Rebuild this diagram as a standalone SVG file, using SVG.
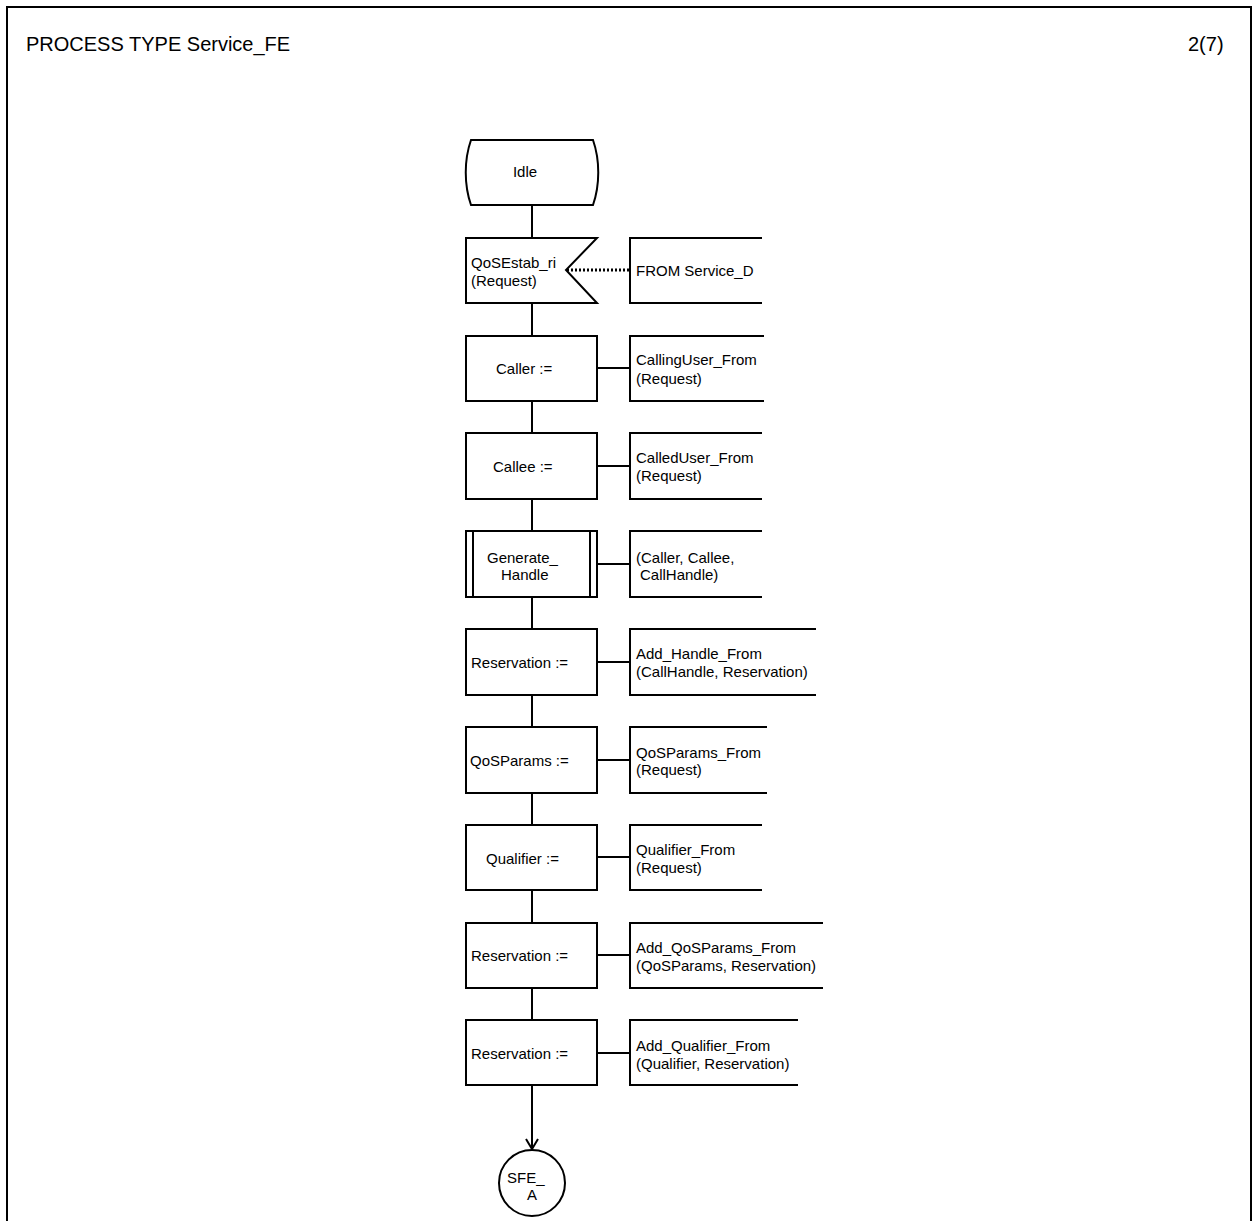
<svg xmlns="http://www.w3.org/2000/svg" width="1253" height="1221" viewBox="0 0 1253 1221">
<style>
.s{fill:#fff;stroke:#000;stroke-width:2}
.o{fill:none;stroke:#000;stroke-width:2}
.l{fill:none;stroke:#000;stroke-width:2}
.d{fill:none;stroke:#000;stroke-width:3;stroke-dasharray:2,2}
text{font-family:"Liberation Sans",Arial,sans-serif;font-size:15px;fill:#000}
.h{font-size:20px}
.c{text-anchor:middle}
</style>
<defs>
<marker id="arr" markerWidth="24" markerHeight="14" refX="11" refY="7" orient="auto" markerUnits="userSpaceOnUse">
<path d="M1,1 L11,7 L1,13" fill="none" stroke="#000" stroke-width="2"/>
</marker>
</defs>
<rect x="7" y="7" width="1244" height="1230" fill="#fff" stroke="#000" stroke-width="2"/>
<text x="26" y="51" class="h">PROCESS TYPE Service_FE</text>
<text x="1188" y="51" class="h">2(7)</text>

<g id="connectors">
<line class="l" x1="532" y1="205" x2="532" y2="238"/>
<line class="l" x1="532" y1="304" x2="532" y2="336"/>
<line class="l" x1="532" y1="401" x2="532" y2="433"/>
<line class="l" x1="532" y1="499" x2="532" y2="531"/>
<line class="l" x1="532" y1="597" x2="532" y2="629"/>
<line class="l" x1="532" y1="695" x2="532" y2="727"/>
<line class="l" x1="532" y1="793" x2="532" y2="825"/>
<line class="l" x1="532" y1="890" x2="532" y2="923"/>
<line class="l" x1="532" y1="988" x2="532" y2="1020"/>
<line class="l" x1="532" y1="1085" x2="532" y2="1149" marker-end="url(#arr)"/>
<line class="d" x1="567" y1="270" x2="630" y2="270"/>
<line class="l" x1="597" y1="368" x2="630" y2="368"/>
<line class="l" x1="597" y1="466" x2="630" y2="466"/>
<line class="l" x1="597" y1="564" x2="630" y2="564"/>
<line class="l" x1="597" y1="662" x2="630" y2="662"/>
<line class="l" x1="597" y1="760" x2="630" y2="760"/>
<line class="l" x1="597" y1="857" x2="630" y2="857"/>
<line class="l" x1="597" y1="955" x2="630" y2="955"/>
<line class="l" x1="597" y1="1053" x2="630" y2="1053"/>
</g>

<g id="idle">
<path class="s" d="M471,140 H593 C600,160 600,185 593,205 H471 C464,185 464,160 471,140 Z"/>
<text x="525" y="177" class="c">Idle</text>
</g>

<g id="input">
<path class="s" d="M466,238 H597 L566,270 L597,303 H466 Z"/>
<text x="471" y="268">QoSEstab_ri</text>
<text x="471" y="286">(Request)</text>
</g>
<g id="c_from">
<path class="o" d="M762,238 H630 V303 H762"/>
<text x="636" y="276">FROM Service_D</text>
</g>

<g id="caller">
<rect class="s" x="466" y="336" width="131" height="65"/>
<text x="496" y="374">Caller :=</text>
</g>
<g id="c_caller">
<path class="o" d="M764,336 H630 V401 H764"/>
<text x="636" y="365">CallingUser_From</text>
<text x="636" y="384">(Request)</text>
</g>

<g id="callee">
<rect class="s" x="466" y="433" width="131" height="66"/>
<text x="493" y="472">Callee :=</text>
</g>
<g id="c_callee">
<path class="o" d="M762,433 H630 V499 H762"/>
<text x="636" y="463">CalledUser_From</text>
<text x="636" y="481">(Request)</text>
</g>

<g id="gen">
<rect class="s" x="466" y="531" width="131" height="66"/>
<line class="l" x1="473" y1="531" x2="473" y2="597"/>
<line class="l" x1="590" y1="531" x2="590" y2="597"/>
<text x="487" y="563">Generate_</text>
<text x="501" y="580">Handle</text>
</g>
<g id="c_gen">
<path class="o" d="M762,531 H630 V597 H762"/>
<text x="636" y="563">(Caller, Callee,</text>
<text x="640" y="580">CallHandle)</text>
</g>

<g id="res1">
<rect class="s" x="466" y="629" width="131" height="66"/>
<text x="471" y="668">Reservation :=</text>
</g>
<g id="c_res1">
<path class="o" d="M816,629 H630 V695 H816"/>
<text x="636" y="659">Add_Handle_From</text>
<text x="636" y="677">(CallHandle, Reservation)</text>
</g>

<g id="qos">
<rect class="s" x="466" y="727" width="131" height="66"/>
<text x="470" y="766">QoSParams :=</text>
</g>
<g id="c_qos">
<path class="o" d="M767,727 H630 V793 H767"/>
<text x="636" y="758">QoSParams_From</text>
<text x="636" y="775">(Request)</text>
</g>

<g id="qual">
<rect class="s" x="466" y="825" width="131" height="65"/>
<text x="486" y="864">Qualifier :=</text>
</g>
<g id="c_qual">
<path class="o" d="M762,825 H630 V890 H762"/>
<text x="636" y="855">Qualifier_From</text>
<text x="636" y="873">(Request)</text>
</g>

<g id="res2">
<rect class="s" x="466" y="923" width="131" height="65"/>
<text x="471" y="961">Reservation :=</text>
</g>
<g id="c_res2">
<path class="o" d="M823,923 H630 V988 H823"/>
<text x="636" y="953">Add_QoSParams_From</text>
<text x="636" y="971">(QoSParams, Reservation)</text>
</g>

<g id="res3">
<rect class="s" x="466" y="1020" width="131" height="65"/>
<text x="471" y="1059">Reservation :=</text>
</g>
<g id="c_res3">
<path class="o" d="M798,1020 H630 V1085 H798"/>
<text x="636" y="1051">Add_Qualifier_From</text>
<text x="636" y="1069">(Qualifier, Reservation)</text>
</g>

<g id="sfe_a">
<circle class="s" cx="532" cy="1183" r="33"/>
<text x="507" y="1183">SFE_</text>
<text x="532" y="1200" class="c">A</text>
</g>
</svg>
